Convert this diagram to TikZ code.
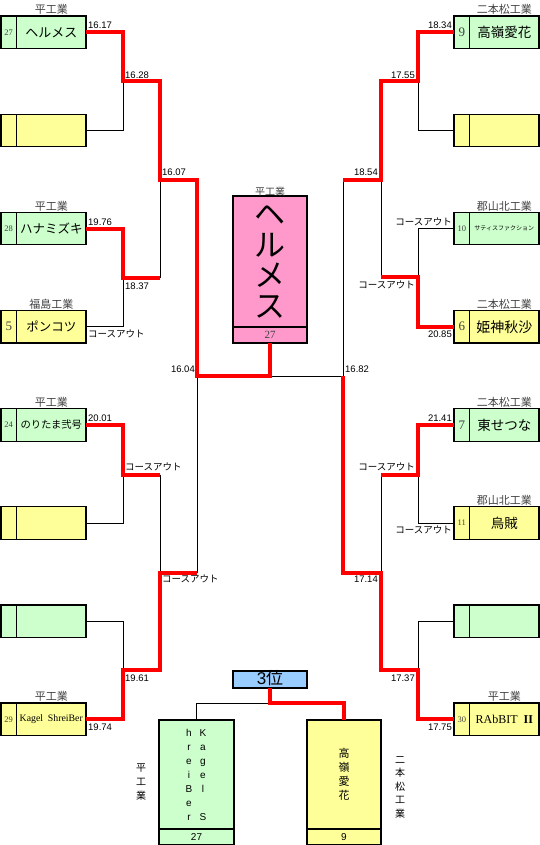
\documentclass[tikz,border=0pt]{standalone}
\usepackage{fontspec}
\setmainfont{Liberation Serif}
\setsansfont{Liberation Sans}
\newfontfamily\jp{Noto Sans CJK JP}
\usetikzlibrary{positioning}
\definecolor{grn}{HTML}{CCFFCC}
\definecolor{ylw}{HTML}{FFFF99}
\definecolor{pnk}{HTML}{FF99CC}
\definecolor{blu}{HTML}{99CCFF}
\definecolor{txtgray}{HTML}{404040}

\begin{document}
\begin{tikzpicture}[x=1pt,y=-1pt,
  numcell/.style={draw,line width=1.2pt,inner sep=0pt,outer sep=0pt,minimum width=15.5pt,minimum height=32.5pt,text=txtgray,font=\fontsize{8.5}{9}\selectfont},
  namecell/.style={draw,line width=1.2pt,inner sep=0pt,outer sep=0pt,minimum width=69.5pt,minimum height=32.5pt,font=\jp\fontsize{13}{14}\selectfont},
  school/.style={inner sep=0pt,text=txtgray,font=\jp\fontsize{11}{12}\selectfont},
  lbl/.style={inner sep=0pt,font=\sffamily\fontsize{9.5}{10}\selectfont},
  blk/.style={line width=1pt},
  win/.style={red,line width=4pt}]
\useasboundingbox (0,0) rectangle (540,845);
% left boxes
\node[numcell,fill=grn] (L1n) at (8.75,32.3) {27};
\node[namecell,fill=grn,right=0pt of L1n] (L1) {ヘルメス};
\node[school,above=1pt of L1] (L1s) {平工業};
\node[numcell,fill=ylw] (L2n) at (8.75,130.4) {};
\node[namecell,fill=ylw,right=0pt of L2n] (L2) {};
\node[numcell,fill=grn] (L3n) at (8.75,228.6) {28};
\node[namecell,fill=grn,right=0pt of L3n,font=\jp\fontsize{12.5}{13}\selectfont] (L3) {ハナミズキ};
\node[school,above=1pt of L3] (L3s) {平工業};
\node[numcell,fill=ylw,font=\fontsize{13}{14}\selectfont] (L4n) at (8.75,326.7) {5};
\node[namecell,fill=ylw,right=0pt of L4n,font=\jp\fontsize{12.5}{13}\selectfont] (L4) {ポンコツ};
\node[school,above=1pt of L4] (L4s) {福島工業};
\node[numcell,fill=grn] (L5n) at (8.75,424.9) {24};
\node[namecell,fill=grn,right=0pt of L5n,font=\jp\fontsize{10.3}{11}\selectfont] (L5) {のりたま弐号};
\node[school,above=1pt of L5] (L5s) {平工業};
\node[numcell,fill=ylw] (L6n) at (8.75,523) {};
\node[namecell,fill=ylw,right=0pt of L6n] (L6) {};
\node[numcell,fill=grn] (L7n) at (8.75,621.2) {};
\node[namecell,fill=grn,right=0pt of L7n] (L7) {};
\node[numcell,fill=ylw] (L8n) at (8.75,719.3) {29};
\node[namecell,fill=ylw,right=0pt of L8n,font=\fontsize{9.8}{11}\selectfont] (L8) {Kagel\ \ ShreiBer};
\node[school,above=1pt of L8] (L8s) {平工業};
% right boxes
\node[numcell,fill=grn,font=\fontsize{13}{14}\selectfont] (R1n) at (461.75,32.3) {9};
\node[namecell,fill=grn,right=0pt of R1n,font=\jp\fontsize{13.5}{14}\selectfont] (R1) {高嶺愛花};
\node[school,above=1pt of R1] (R1s) {二本松工業};
\node[numcell,fill=ylw] (R2n) at (461.75,130.4) {};
\node[namecell,fill=ylw,right=0pt of R2n] (R2) {};
\node[numcell,fill=grn] (R3n) at (461.75,228.6) {10};
\node[namecell,fill=grn,right=0pt of R3n,font=\jp\fontsize{6}{7}\selectfont] (R3) {サティスファクション};
\node[school,above=1pt of R3] (R3s) {郡山北工業};
\node[numcell,fill=ylw,font=\fontsize{13}{14}\selectfont] (R4n) at (461.75,326.7) {6};
\node[namecell,fill=ylw,right=0pt of R4n,font=\jp\fontsize{14}{15}\selectfont] (R4) {姫神秋沙};
\node[school,above=1pt of R4] (R4s) {二本松工業};
\node[numcell,fill=grn,font=\fontsize{13}{14}\selectfont] (R5n) at (461.75,424.9) {7};
\node[namecell,fill=grn,right=0pt of R5n,font=\jp\fontsize{13.5}{14}\selectfont] (R5) {東せつな};
\node[school,above=1pt of R5] (R5s) {二本松工業};
\node[numcell,fill=ylw] (R6n) at (461.75,523) {11};
\node[namecell,fill=ylw,right=0pt of R6n,font=\jp\fontsize{13.5}{14}\selectfont] (R6) {烏賊};
\node[school,above=1pt of R6] (R6s) {郡山北工業};
\node[numcell,fill=grn] (R7n) at (461.75,621.2) {};
\node[namecell,fill=grn,right=0pt of R7n] (R7) {};
\node[numcell,fill=ylw] (R8n) at (461.75,719.3) {30};
\node[namecell,fill=ylw,right=0pt of R8n,font=\fontsize{12}{13}\selectfont] (R8) {RAbBIT\hspace{6pt}\textbf{II}};
\node[school,above=1pt of R8] (R8s) {平工業};
% winner
\node[namecell,fill=pnk,minimum width=74pt,minimum height=131pt,align=center,font=\jp\fontsize{31}{30.5}\selectfont] (CH) at (270,261.5) {ヘ\\ル\\メ\\ス};
\node[numcell,fill=pnk,minimum width=74pt,minimum height=16pt,font=\fontsize{11}{12}\selectfont,below=0pt of CH] (CHn) {27};
\node[school,font=\jp\fontsize{10}{11}\selectfont,above=0pt of CH] (CHs) {平工業};
% third place
\node[draw,line width=1.2pt,fill=blu,inner sep=0pt,outer sep=0pt,minimum width=74pt,minimum height=17pt,text height=12pt,text depth=2pt,font=\sffamily\fontsize{17}{17}\selectfont] (T3) at (270,679.5) {3{\jp 位}};
\node[namecell,fill=grn,minimum width=75pt,minimum height=109pt] (G3) at (196.5,774.5) {};
\node[numcell,fill=grn,minimum width=75pt,minimum height=16pt,text=black,font=\sffamily\fontsize{10}{11}\selectfont,below=0pt of G3] (G3n) {27};
\node[namecell,fill=ylw,minimum width=74pt,minimum height=109pt,align=center,font=\jp\fontsize{11}{14}\selectfont] (Y3) at (344,774.5) {高\\嶺\\愛\\花};
\node[numcell,fill=ylw,minimum width=74pt,minimum height=16pt,text=black,font=\sffamily\fontsize{10}{11}\selectfont,below=0pt of Y3] (Y3n) {9};
\node[align=center,inner sep=0pt,font=\sffamily\fontsize{10}{13.9}\selectfont] (G3r) at (203,775) {K\\a\\g\\e\\l\\\mbox{}\\S};
\node[align=center,inner sep=0pt,font=\sffamily\fontsize{10}{13.9}\selectfont] (G3l) at (189,775) {h\\r\\e\\i\\B\\e\\r};
\node[align=center,inner sep=0pt,font=\jp\fontsize{10}{14}\selectfont] (G3s) at (141,782) {平\\工\\業};
\node[align=center,inner sep=0pt,font=\jp\fontsize{10}{13.5}\selectfont] (Y3s) at (400,787) {二\\本\\松\\工\\業};
% junctions
\coordinate (a1) at (123,81.5);\coordinate (a2) at (123,278);
\coordinate (a3) at (123,474.5);\coordinate (a4) at (123,670);
\coordinate (b1) at (160,180);\coordinate (b2) at (160,573);
\coordinate (c1) at (418,81.5);\coordinate (c2) at (418,277);
\coordinate (c3) at (418,474.5);\coordinate (c4) at (418,670);
\coordinate (d1) at (381,180);\coordinate (d2) at (381,573);
\coordinate (fL) at (197,376);\coordinate (fR) at (343,376);
\coordinate (e3) at (270,703);
% losers
\draw[blk] (L2.east) -| (a1);\draw[blk] (L4.east) -| (a2);
\draw[blk] (L6.east) -| (a3);\draw[blk] (L7.east) -| (a4);
\draw[blk] (a2 -| b1) -- (b1);\draw[blk] (a3 -| b1) -- (b2);
\draw[blk] (b2 -| fL) -- (fL);\draw[blk] (fL) -- (fR);
\draw[blk] (R2n.west) -| (c1);\draw[blk] (R3n.west) -| (c2);
\draw[blk] (R6n.west) -| (c3);\draw[blk] (R7n.west) -| (c4);
\draw[blk] (c2 -| d1) -- (d1);\draw[blk] (c3 -| d1) -- (d2);
\draw[blk] (d1 -| fR) -- (fR);
\draw[blk] (e3) -| (G3.north);
% winners
\draw[win] (L1.east) -| (a1) -| (b1) -| (fL) -| (CHn.south);
\draw[win] (L3.east) -| (a2) -- (a2 -| b1);
\draw[win] (L5.east) -| (a3) -- (a3 -| b1);
\draw[win] (L8.east) -| (a4) -| (b2) -- (b2 -| fL);
\draw[win] (R1n.west) -| (c1) -| (d1) -- (d1 -| fR);
\draw[win] (R4n.west) -| (c2) -- (c2 -| d1);
\draw[win] (R5n.west) -| (c3) -- (c3 -| d1);
\draw[win] (R8n.west) -| (c4) -| (d2) -| (fR);
\draw[win] (T3.south) -- (e3) -| (Y3.north);
% times
\node[lbl,anchor=west] (t1) at (88,25) {16.17};
\node[lbl,anchor=west] (t2) at (125,75) {16.28};
\node[lbl,anchor=west] (t3) at (162,172.5) {16.07};
\node[lbl,anchor=west] (t4) at (88,222) {19.76};
\node[lbl,anchor=west] (t5) at (125,286) {18.37};
\node[lbl,anchor=west] (t6) at (88,334) {\jp コースアウト};
\node[lbl,anchor=east] (t7) at (195,369) {16.04};
\node[lbl,anchor=west] (t8) at (88,418) {20.01};
\node[lbl,anchor=west] (t9) at (125,467) {\jp コースアウト};
\node[lbl,anchor=west] (t10) at (162,579) {\jp コースアウト};
\node[lbl,anchor=west] (t11) at (125,678) {19.61};
\node[lbl,anchor=west] (t12) at (88,727) {19.74};
\node[lbl,anchor=east] (u1) at (452,25) {18.34};
\node[lbl,anchor=east] (u2) at (415,75) {17.55};
\node[lbl,anchor=east] (u3) at (378,172.5) {18.54};
\node[lbl,anchor=east] (u4) at (452,222) {\jp コースアウト};
\node[lbl,anchor=east] (u5) at (415,285) {\jp コースアウト};
\node[lbl,anchor=east] (u6) at (452,334) {20.85};
\node[lbl,anchor=west] (u7) at (345,369) {16.82};
\node[lbl,anchor=east] (u8) at (452,418) {21.41};
\node[lbl,anchor=east] (u9) at (415,467) {\jp コースアウト};
\node[lbl,anchor=east] (u10) at (452,530) {\jp コースアウト};
\node[lbl,anchor=east] (u11) at (378,579) {17.14};
\node[lbl,anchor=east] (u12) at (415,678) {17.37};
\node[lbl,anchor=east] (u13) at (452,727) {17.75};
\end{tikzpicture}
\end{document}
